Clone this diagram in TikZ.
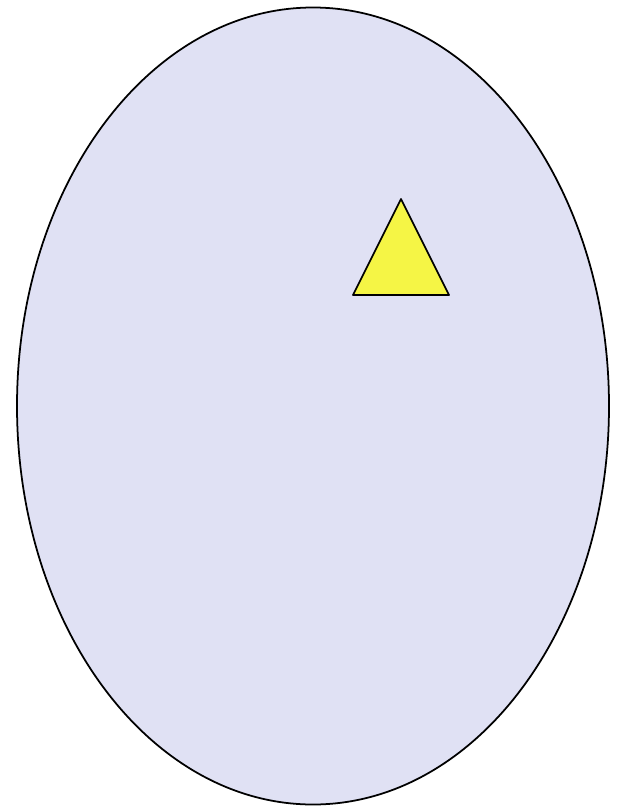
\documentclass[tikz,border=0pt]{standalone}
\usetikzlibrary{calc}
\definecolor{lavender}{HTML}{E0E1F4}
\definecolor{lemon}{HTML}{F5F545}
\begin{document}
\begin{tikzpicture}[x=0.03cm, y=-0.03cm]
      \def\cx{313}
      \def\cy{406}
      \useasboundingbox (0,0) rectangle (617,806);
      \draw[fill=lavender, line width=1.5pt] (\cx,\cy) ellipse [x radius=296, y radius=398.5];
      \coordinate (top) at (401,199);
      \coordinate (left) at (353,295);
      \coordinate (right) at (449,295);
      \draw[fill=lemon, line width=1.5pt, line join=round] (top) -- (left) -- (right) -- cycle;
    \end{tikzpicture}
\end{document}
